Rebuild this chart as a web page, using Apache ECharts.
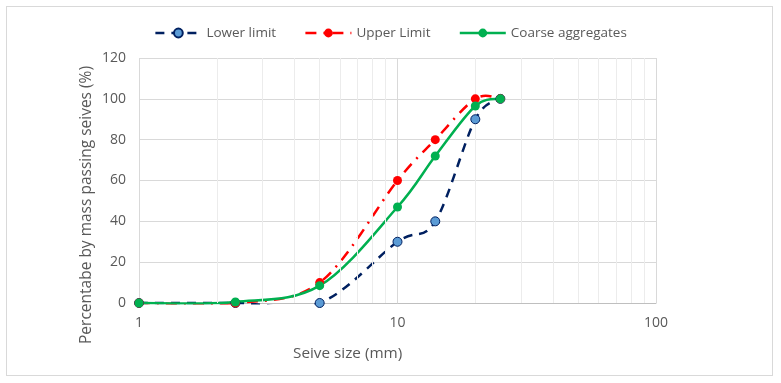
<!DOCTYPE html>
<html><head><meta charset="utf-8">
<script src="https://cdn.jsdelivr.net/npm/echarts@6/dist/echarts.min.js"></script>
<style>
html,body{margin:0;padding:0;background:#fff;}
#frame{position:absolute;left:6px;top:6px;width:765px;height:368px;border:1px solid #d9d9d9;}
#chart{position:absolute;left:0;top:0;width:781px;height:383px;}
</style></head>
<body><div id="frame"></div><div id="chart"></div>
<script>
const sieveSizes = [1, 2.36, 5, 10, 14, 20, 25];
const lowerLimit = [0, 0, 0, 30, 40, 90, 100];
const upperLimit = [0, 0, 10, 60, 80, 100, 100];
const coarseAggregates = [0, 0.5, 8.5, 47, 72, 96.5, 100];
const minorGridX = [2, 3, 4, 5, 6, 7, 8, 9, 20, 30, 40, 50, 60, 70, 80, 90];
const seriesNames = ['Lower limit', 'Upper Limit', 'Coarse aggregates'];

const pair = (xs, ys) => xs.map((x, i) => [x, ys[i]]);
const font = 'Open Sans';
const txt = '#595959';

const styles = [
  {line: '#002060', dash: [9, 7], fill: '#5b9bd5', border: '#002060', bw: 1},
  {line: '#ff0000', dash: [11, 7, 2, 7], fill: '#ff0000', border: '#ff0000', bw: 0},
  {line: '#00b050', dash: null, fill: '#00b050', border: '#00b050', bw: 0}
];
const values = [lowerLimit, upperLimit, coarseAggregates];

// Smooth curve (Catmull-Rom style Bezier) through points converted by the axes
function curveSeries(k) {
  const st = styles[k];
  return {
    type: 'custom', name: seriesNames[k] + ' curve', z: 2 + k, silent: true,
    data: pair(sieveSizes, values[k]),
    encode: {x: 0, y: 1},
    renderItem: function (params, api) {
      if (params.dataIndex !== 0) return null;
      const cs = params.coordSys;
      const pts = pair(sieveSizes, values[k]).map(p => api.coord(p));
      const n = pts.length;
      let d = 'M' + pts[0][0] + ' ' + pts[0][1];
      for (let i = 0; i < n - 1; i++) {
        const p0 = pts[Math.max(i - 1, 0)], p1 = pts[i], p2 = pts[i + 1], p3 = pts[Math.min(i + 2, n - 1)];
        const c1x = p1[0] + (p2[0] - p0[0]) / 6, c1y = p1[1] + (p2[1] - p0[1]) / 6;
        const c2x = p2[0] - (p3[0] - p1[0]) / 6, c2y = p2[1] - (p3[1] - p1[1]) / 6;
        d += ' C' + c1x + ' ' + c1y + ' ' + c2x + ' ' + c2y + ' ' + p2[0] + ' ' + p2[1];
      }
      return {
        type: 'path',
        shape: {pathData: d},
        clipPath: {type: 'rect', shape: {x: cs.x - 2, y: cs.y - 2, width: cs.width + 4, height: cs.height + 3.5}},
        style: {fill: null, stroke: st.line, lineWidth: 2.5, lineDash: st.dash, lineCap: 'butt'}
      };
    }
  };
}

function markerSeries(k) {
  const st = styles[k];
  return {
    name: seriesNames[k], type: 'line', z: 6 + k,
    data: pair(sieveSizes, values[k]),
    symbol: 'circle', symbolSize: 9,
    lineStyle: {color: st.line, width: 2.5, type: st.dash || 'solid', opacity: 0},
    itemStyle: {color: st.fill, borderColor: st.border, borderWidth: st.bw}
  };
}

const chart = echarts.init(document.getElementById('chart'), null, {renderer: 'canvas'});
chart.setOption({
  animation: false,
  textStyle: {fontFamily: font, color: txt},
  grid: {left: 139, right: 125, top: 58, bottom: 80},
  legend: {
    data: seriesNames.map((name, k) => ({
      name: name,
      lineStyle: {color: styles[k].line, width: 2.5, type: styles[k].dash || 'solid', opacity: 1}
    })),
    top: 21, left: 'center',
    itemWidth: 46, itemHeight: 11, itemGap: 28,
    textStyle: {fontFamily: font, fontSize: 13.5, color: txt}
  },
  xAxis: {
    type: 'log', logBase: 10, min: 1, max: 100,
    axisLine: {show: true, lineStyle: {color: '#bfbfbf', width: 1}},
    axisTick: {show: false},
    axisLabel: {fontFamily: font, fontSize: 14, color: txt, margin: 13},
    splitLine: {show: true, lineStyle: {color: '#d9d9d9', width: 1}}
  },
  yAxis: {
    type: 'value', min: 0, max: 120, interval: 20,
    axisLine: {show: false}, axisTick: {show: false},
    axisLabel: {fontFamily: font, fontSize: 14, color: txt, margin: 13},
    splitLine: {show: true, lineStyle: {color: '#d9d9d9', width: 1}}
  },
  graphic: [
    {type: 'text', left: 293, top: 346, style: {text: 'Seive size (mm)', font: '15.3px "' + font + '"', fill: txt}},
    {type: 'text', x: 87, y: 205, rotation: Math.PI / 2,
     style: {text: 'Percentabe by mass passing seives (%)', font: '15.5px "' + font + '"', fill: txt, align: 'center', verticalAlign: 'middle'}}
  ],
  series: [
    {
      type: 'line', name: 'minor', data: [], z: 1, silent: true,
      markLine: {
        silent: true, symbol: 'none', label: {show: false},
        lineStyle: {color: '#ececec', width: 1, type: 'solid'},
        data: minorGridX.map(v => ({xAxis: v}))
      }
    },
    curveSeries(0), curveSeries(1), curveSeries(2),
    markerSeries(0), markerSeries(1), markerSeries(2)
  ]
});
</script></body></html>
